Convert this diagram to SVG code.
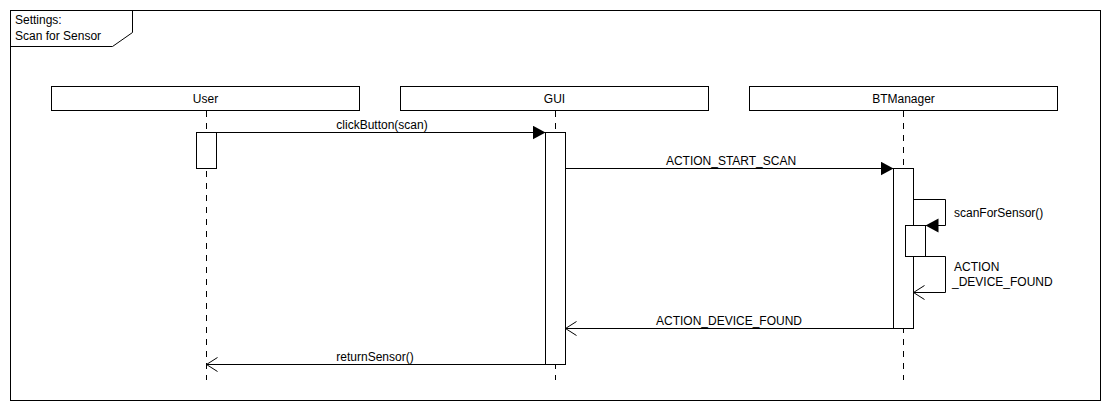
<svg xmlns="http://www.w3.org/2000/svg" width="1110" height="410" viewBox="0 0 1110 410">
<style>
.box{fill:#fff;stroke:#000;stroke-width:1}
.life{stroke:#000;stroke-width:1;stroke-dasharray:6 6;fill:none}
.msg{stroke:#000;stroke-width:1;fill:none}
text{font-family:"Liberation Sans",Arial,sans-serif;font-size:12px;fill:#000}
.c{text-anchor:middle}
</style>
<defs>
<marker id="filled" markerWidth="14" markerHeight="16" refX="13" refY="7" orient="auto" markerUnits="userSpaceOnUse">
<path d="M0,0 L13,7 L0,14 Z" fill="#000"/>
</marker>
<marker id="open" markerWidth="14" markerHeight="16" refX="12" refY="7.5" orient="auto" markerUnits="userSpaceOnUse">
<path d="M1,0.5 L12,7.5 L1,14.5" fill="none" stroke="#000" stroke-width="1"/>
</marker>
</defs>
<rect width="1110" height="410" fill="#fff"/>
<g id="frame">
<rect x="10.5" y="10.5" width="1090" height="390" fill="none" stroke="#000"/>
<path d="M10.5,46.5 H112.5 L132.5,32.5 V10.5" fill="none" stroke="#000"/>
<text x="15" y="24">Settings:</text>
<text x="15" y="40">Scan for Sensor</text>
</g>
<g id="lifelines">
<line class="life" x1="206.5" y1="111" x2="206.5" y2="380"/>
<line class="life" x1="555.5" y1="111" x2="555.5" y2="380"/>
<line class="life" x1="903.5" y1="111" x2="903.5" y2="380"/>
</g>
<g id="user">
<rect class="box" x="51.5" y="86.5" width="308" height="24"/>
<text class="c" x="205.5" y="103">User</text>
</g>
<g id="gui">
<rect class="box" x="400.5" y="86.5" width="308" height="24"/>
<text class="c" x="554.5" y="103">GUI</text>
</g>
<g id="btmanager">
<rect class="box" x="749.5" y="86.5" width="308" height="24"/>
<text class="c" x="903.5" y="103">BTManager</text>
</g>
<g id="activations">
<rect class="box" x="196.5" y="132.5" width="20" height="36"/>
<rect class="box" x="545.5" y="132.5" width="20" height="232"/>
<rect class="box" x="893.5" y="168.5" width="20" height="160"/>
<rect class="box" x="905.5" y="225.5" width="20" height="31"/>
</g>
<g id="connectors">
<line class="msg" x1="216.5" y1="132.5" x2="545.5" y2="132.5" marker-end="url(#filled)"/>
<text class="c" x="382" y="129">clickButton(scan)</text>
<line class="msg" x1="565.5" y1="168.5" x2="893.5" y2="168.5" marker-end="url(#filled)"/>
<text class="c" x="731" y="165">ACTION_START_SCAN</text>
<path class="msg" d="M913.5,199.5 H945.5 V225.5 H925.5" marker-end="url(#filled)"/>
<text x="954" y="217">scanForSensor()</text>
<path class="msg" d="M925.5,256.5 H945.5 V292.5 H913.5" marker-end="url(#open)"/>
<text x="954" y="271">ACTION</text>
<text x="952" y="286">_DEVICE_FOUND</text>
<line class="msg" x1="893.5" y1="328.5" x2="565.5" y2="328.5" marker-end="url(#open)"/>
<text class="c" x="729" y="325">ACTION_DEVICE_FOUND</text>
<line class="msg" x1="545.5" y1="364.5" x2="206.5" y2="364.5" marker-end="url(#open)"/>
<text class="c" x="375" y="361">returnSensor()</text>
</g>
</svg>
